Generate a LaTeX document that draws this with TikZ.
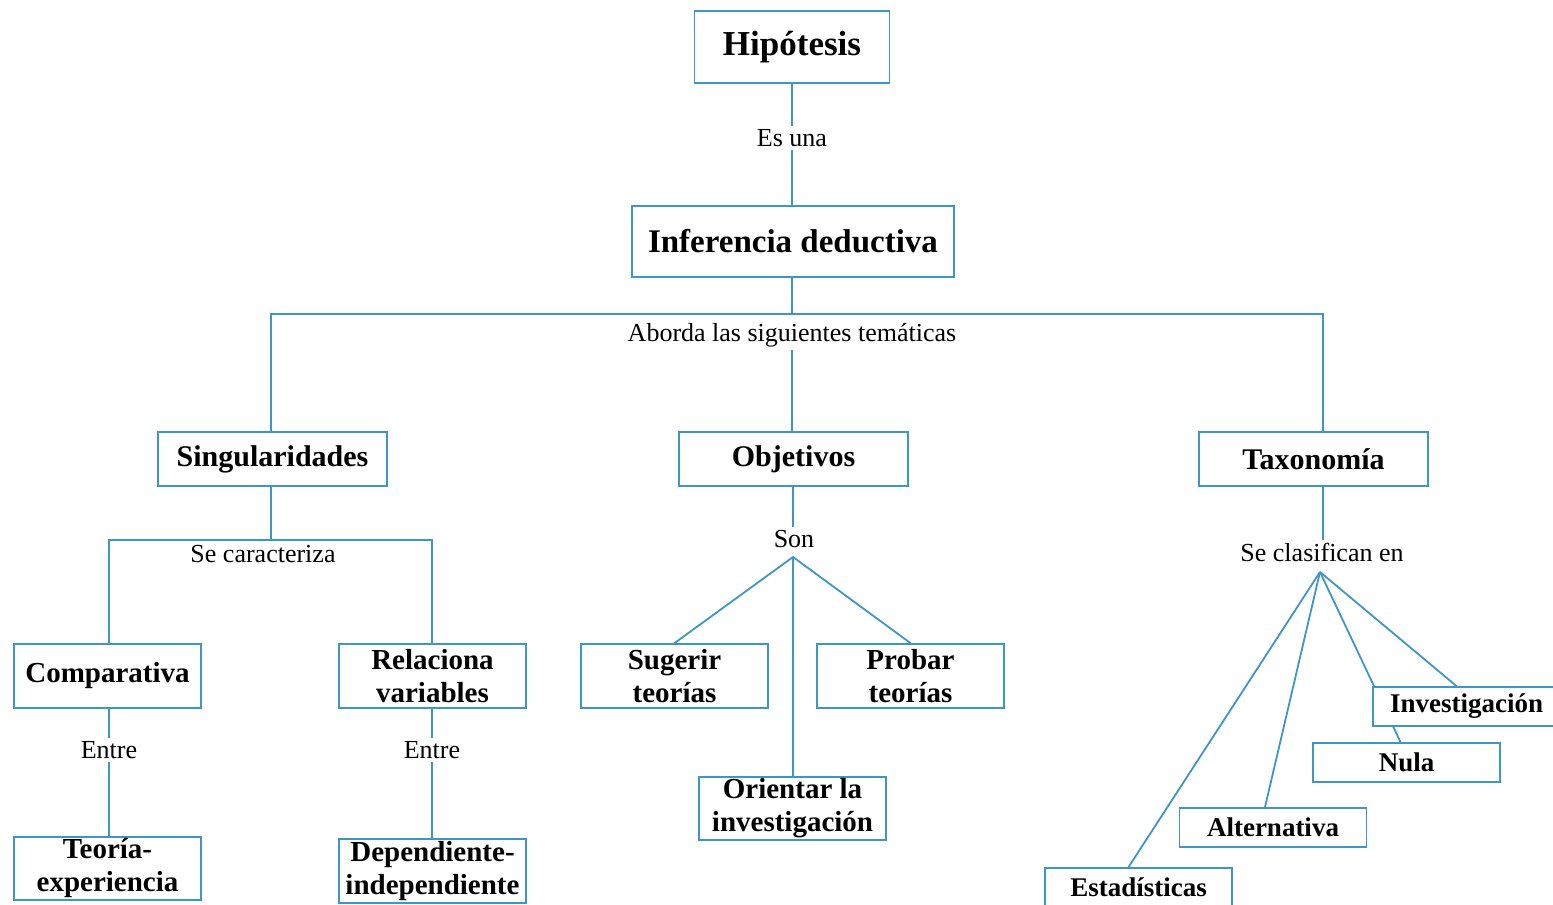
\documentclass[tikz,border=0pt]{standalone}
\usepackage{fontspec}
\setmainfont{Liberation Serif}
\usetikzlibrary{backgrounds}
\definecolor{linkblue}{RGB}{62,150,196}
\tikzset{
  x=1pt, y=-1pt,
  concept/.style={draw=linkblue, line width=1.8pt, fill=white, align=center,
    inner sep=0pt, font=\bfseries\fontsize{29}{33}\selectfont,
    minimum width=187pt, minimum height=64pt},
  small/.style={concept, font=\bfseries\fontsize{27}{30}\selectfont, minimum height=39pt},
  mid/.style={concept, font=\bfseries\fontsize{30}{33}\selectfont, minimum width=229pt, minimum height=54pt},
  linklabel/.style={inner sep=3pt, font=\fontsize{26}{30}\selectfont},
  link/.style={draw=linkblue, line width=1.8pt}
}
\begin{document}
\begin{tikzpicture}
\useasboundingbox (0,0) rectangle (1553,905);
\clip (0,0) rectangle (1553,905);

% top of the map
\node[concept, font=\bfseries\fontsize{35}{38}\selectfont, minimum width=195pt, minimum height=72pt] (hip) at (792,47) {Hipótesis};
\node[linklabel] (esuna) at (792,138) {Es una};
\node[concept, font=\bfseries\fontsize{33}{36}\selectfont, minimum width=322pt, minimum height=71pt] (inf) at (793,241.5) {Inferencia deductiva};
\node[linklabel] (aborda) at (792,335) {Aborda las siguientes temáticas};

% three topics
\node[mid] (sing) at (272.5,459) {Singularidades};
\node[mid] (obj) at (793.5,459) {Objetivos};
\node[mid] (tax) at (1313.5,459) {Taxonomía};

% singularities branch
\node[linklabel] (secar) at (263,554) {Se caracteriza};
\node[concept] (comp) at (107.5,676) {Comparativa};
\node[concept] (rel) at (432.5,676) {Relaciona\\variables};
\node[linklabel] (entre1) at (109,750) {Entre};
\node[linklabel] (entre2) at (432,750) {Entre};
\node[concept, minimum height=63pt] (teo) at (107.5,868.5) {Teoría-\\experiencia};
\node[concept] (dep) at (432.5,871) {Dependiente-\\independiente};

% objectives branch
\node[linklabel] (son) at (794,539) {Son};
\node[concept] (sug) at (674.5,676) {Sugerir\\teorías};
\node[concept] (prob) at (910.5,676) {Probar\\teorías};
\node[concept, minimum height=63pt] (ori) at (792.5,808.5) {Orientar la\\investigación};

% taxonomy branch
\node[linklabel] (secla) at (1322,552) {Se clasifican en};
\node[small] (inv) at (1466.5,706.5) {Investigación};
\node[small] (nula) at (1406.5,762.5) {Nula};
\node[small] (alt) at (1273,827.5) {Alternativa};
\node[small] (est) at (1138.5,887.5) {Estadísticas};

% junction points
\coordinate (barL) at (271,314);
\coordinate (barM) at (792,314);
\coordinate (barR) at (1323,314);
\coordinate (carL) at (109,540);
\coordinate (carR) at (432,540);
\coordinate (sonfan) at (793,557);
\coordinate (taxfan) at (1320,572);

\begin{scope}[on background layer]
  \draw[link] (hip.south) -- (esuna.north);
  \draw[link] (esuna.south) -- (esuna.south |- inf.north);
  \draw[link] (inf.south -| barM) -- (barM);
  \draw[link] (sing.north -| barL) -- (barL) -- (barR) -- (barR |- tax.north);
  \draw[link] (aborda.south) -- (aborda.south |- obj.north);

  \draw[link] (sing.south -| barL) -- (barL |- carL);
  \draw[link] (carL |- comp.north) -- (carL) -- (carR) -- (carR |- rel.north);
  \draw[link] (comp.south -| carL) -- (entre1.north -| carL);
  \draw[link] (entre1.south -| carL) -- (teo.north -| carL);
  \draw[link] (rel.south -| carR) -- (entre2.north -| carR);
  \draw[link] (entre2.south -| carR) -- (dep.north -| carR);

  \draw[link] (obj.south -| sonfan) -- (son.north -| sonfan);
  \draw[link] (sug.north) -- (sonfan) -- (prob.north);
  \draw[link] (sonfan) -- (ori.north -| sonfan);

  \draw[link] (barR |- tax.south) -- (barR |- secla.north);
  \draw[link] (taxfan) -- ([xshift=-10pt]est.north);
  \draw[link] (taxfan) -- ([xshift=-8pt]alt.north);
  \draw[link] (taxfan) -- ([xshift=-6pt]nula.north);
  \draw[link] (taxfan) -- ([xshift=-10pt]inv.north);
\end{scope}
\end{tikzpicture}
\end{document}
